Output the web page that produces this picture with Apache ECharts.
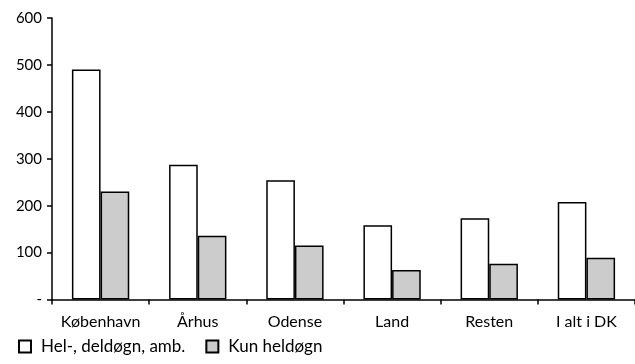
<!DOCTYPE html>
<html><head><meta charset="utf-8">
<script src="https://cdn.jsdelivr.net/npm/echarts@6/dist/echarts.min.js"></script>
<style>html,body{margin:0;padding:0;background:#fff}#c{width:635px;height:364px}</style>
</head><body><div id="c"></div>
<script>
const categories = ["København", "Århus", "Odense", "Land", "Resten", "I alt i DK"];
const seriesNames = ["Hel-, deldøgn, amb.", "Kun heldøgn"];
const helDeldoegn = [490, 287, 254, 158, 173, 208];
const kunHeldoegn = [230, 136, 115, 63, 76, 89];
const yTicks = [0, 100, 200, 300, 400, 500, 600];

const font = 'Lato, "Open Sans", sans-serif';
const chart = echarts.init(document.getElementById('c'));
chart.setOption({
  animation: false,
  textStyle: { fontFamily: font },
  grid: { left: 52, right: 0, top: 18, bottom: 64.5 },
  legend: {
    left: 13, bottom: 4, itemWidth: 12, itemHeight: 12, itemGap: 20,
    icon: 'rect',
    textStyle: { fontFamily: font, fontSize: 17, color: '#000', padding: [0,0,0,5] },
    data: seriesNames
  },
  xAxis: {
    type: 'category', data: categories,
    axisLine: { lineStyle: { color: '#000', width: 1.5 } },
    axisTick: { show: true, length: 5, lineStyle: { color: '#000', width: 1.5 } },
    axisLabel: { color: '#000', fontSize: 16, fontFamily: font, margin: 14, interval: 0, hideOverlap: false }
  },
  yAxis: {
    type: 'value', min: yTicks[0], max: yTicks[yTicks.length-1], interval: 100,
    splitLine: { show: false },
    axisLine: { show: true, lineStyle: { color: '#000', width: 1.5 } },
    axisTick: { show: true, length: 5, lineStyle: { color: '#000', width: 1.5 } },
    axisLabel: { color: '#000', fontSize: 15, fontFamily: font, margin: 10,
      formatter: v => v === 0 ? '-' : String(v) }
  },
  series: [
    { name: seriesNames[0], type: 'bar', data: helDeldoegn, barGap: '0%', barCategoryGap: '41%',
      itemStyle: { color: '#ffffff', borderColor: '#000', borderWidth: 1.5 } },
    { name: seriesNames[1], type: 'bar', data: kunHeldoegn, barGap: '0%', barCategoryGap: '41%',
      itemStyle: { color: '#cccccc', borderColor: '#000', borderWidth: 1.5 } }
  ]
});
</script></body></html>
